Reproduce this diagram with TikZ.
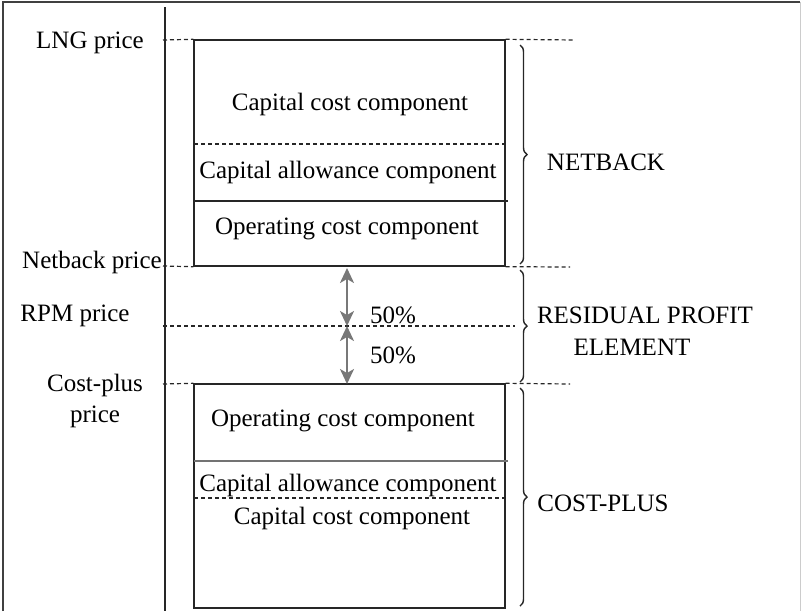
\documentclass[tikz,border=0pt]{standalone}
\usepackage{fontspec}
\setmainfont{Liberation Serif}
\usetikzlibrary{decorations.pathreplacing,arrows.meta}
\definecolor{arrgray}{RGB}{120,120,120}
\tikzset{
  lbl/.style={inner sep=0pt, font=\fontsize{25}{31}\selectfont, text=black},
  boxline/.style={line width=1.4pt, black!85},
  dashline/.style={line width=1.2pt, black!85, dash pattern=on 4pt off 3pt},
  gapline/.style={line width=2pt, arrgray, {Stealth[width=14pt,length=15pt,inset=4pt]}-{Stealth[width=14pt,length=15pt,inset=4pt]}},
  bracestyle/.style={line width=1.4pt, black!85, decorate, decoration={brace, amplitude=7pt}},
}
\begin{document}
\begin{tikzpicture}[x=1pt,y=-1pt]
\useasboundingbox (0,0) rectangle (802,611);
% frame
\draw[line width=1.2pt, black!75] (3,611) -- (3,2) -- (800,2);
\draw[line width=1pt, black!20] (800,2) -- (800,611);
% axis
\coordinate (axtop) at (165,7);
\coordinate (axbot) at (165,611);
\draw[boxline] (axtop) -- (axbot);

% netback box
\node[draw, boxline, minimum width=311pt, minimum height=226pt, inner sep=0pt] (nb) at (349.5,153) {};
\coordinate (nbd1l) at (194,144); \coordinate (nbd1r) at (505,144);
\coordinate (nbd2l) at (194,201); \coordinate (nbd2r) at (508,201);
\draw[dashline] (nbd1l) -- (nbd1r);
\draw[boxline] (nbd2l) -- (nbd2r);
\node[lbl] (nbcap) at (350,104) {Capital cost component};
\node[lbl] (nball) at (348,172) {Capital allowance component};
\node[lbl] (nbop) at (347,229) {Operating cost component};

% cost-plus box
\node[draw, boxline, minimum width=311pt, minimum height=224pt, inner sep=0pt] (cp) at (349.5,496) {};
\coordinate (cpd1l) at (194,461); \coordinate (cpd1r) at (508,461);
\coordinate (cpd2l) at (194,498); \coordinate (cpd2r) at (505,498);
\draw[boxline, black!55] (cpd1l) -- (cpd1r);
\draw[dashline] (cpd2l) -- (cpd2r);
\node[lbl] (cpop) at (343,421) {Operating cost component};
\node[lbl] (cpall) at (348,485) {Capital allowance component};
\node[lbl] (cpcap) at (352,518) {Capital cost component};

% price labels
\node[lbl] (lng) at (90,43) {LNG price};
\node[lbl] (nbp) at (92,262) {Netback price};
\node[lbl] (rpm) at (75,316) {RPM price};
\node[lbl, align=center] (cpp) at (95,401) {Cost-plus\\price};

% dashed price levels
\coordinate (lngL) at (163,40);  \coordinate (lngR) at (575,40);
\coordinate (nbL) at (163,266);  \coordinate (nbR) at (570,267);
\coordinate (rpmL) at (163,326); \coordinate (rpmR) at (515,326);
\coordinate (cpL) at (163,384);  \coordinate (cpR) at (570,384);
\draw[dashline] (lngL) -- (nb.north west);
\draw[dashline] (nb.north east) -- (lngR);
\draw[dashline] (nbL) -- (nb.south west);
\draw[dashline] (nb.south east) -- (nbR);
\draw[dashline] (rpmL) -- (rpmR);
\draw[dashline] (cpL) -- (cp.north west);
\draw[dashline] (cp.north east) -- (cpR);

% arrows
\coordinate (a1) at (347,268);
\coordinate (a2) at (347,326);
\coordinate (a3) at (347,384);
\draw[gapline] (a1) -- (a2);
\draw[gapline] (a2) -- (a3);
\node[lbl, anchor=west] (p1) at (370,315) {50\%};
\node[lbl, anchor=west] (p2) at (370,355) {50\%};

% braces
\coordinate (b1t) at (520,45);  \coordinate (b1b) at (520,264);
\coordinate (b2t) at (520,270); \coordinate (b2b) at (520,382);
\coordinate (b3t) at (520,388); \coordinate (b3b) at (520,606);
\draw[bracestyle] (b1t) -- (b1b);
\draw[bracestyle] (b2t) -- (b2b);
\draw[bracestyle] (b3t) -- (b3b);
\node[lbl] (netback) at (606,162) {NETBACK};
\node[lbl] (rpe1) at (645,315) {RESIDUAL PROFIT};
\node[lbl] (rpe2) at (632,347) {ELEMENT};
\node[lbl] (costplus) at (603,503) {COST-PLUS};
\end{tikzpicture}
\end{document}
